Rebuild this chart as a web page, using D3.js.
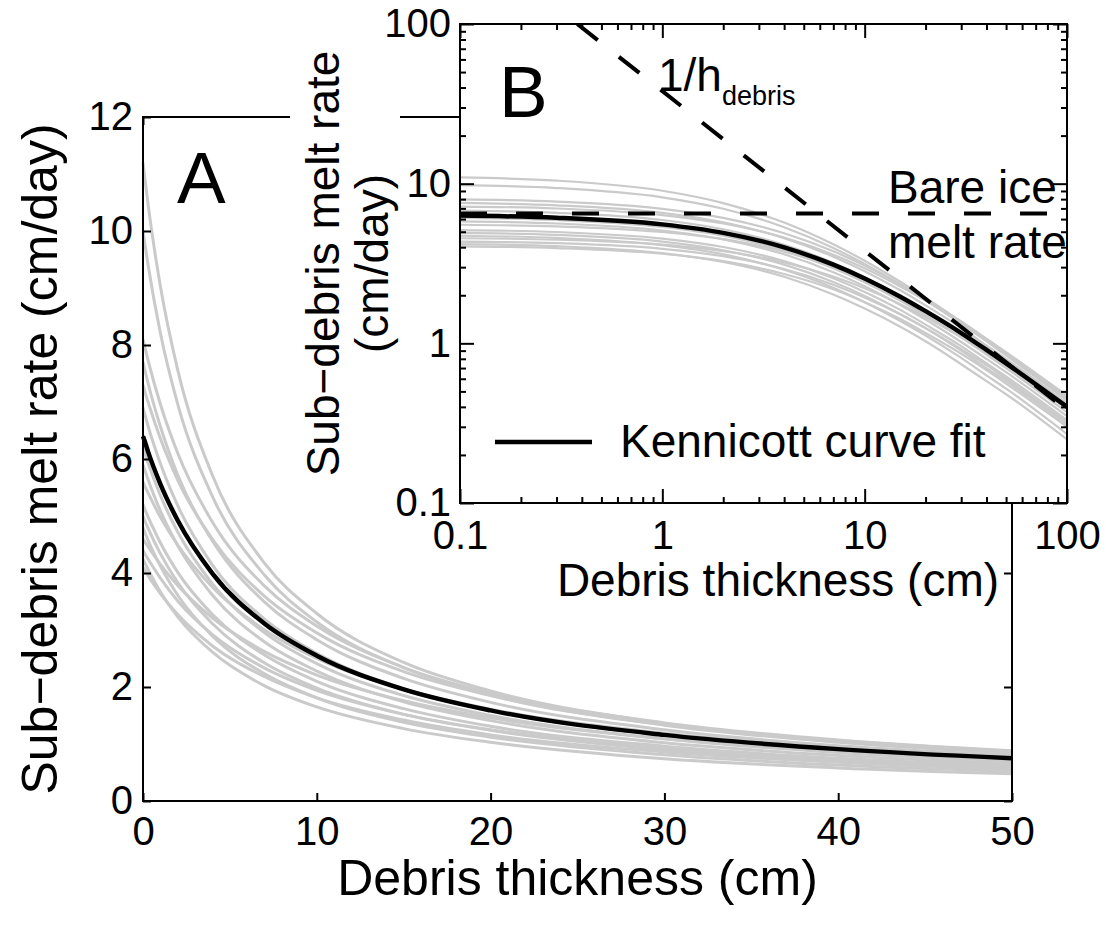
<!DOCTYPE html>
<html>
<head>
<meta charset="utf-8">
<script src="https://cdn.jsdelivr.net/npm/d3@7"></script>
<style>
body { margin: 0; background: #fff; }
svg { display: block; }
</style>
</head>
<body>
<div id="chart"></div>
<script>
// debris thickness (cm) at which each curve was read
var thickness = [0, 0.1, 0.3, 1, 2, 4, 7, 10, 15, 20, 30, 40, 50, 100];

// Kennicott curve fit (cm/day)
var kennicottFit = [6.40, 6.31, 6.12, 5.56, 4.92, 3.99, 3.11, 2.55, 1.96, 1.59, 1.16, 0.91, 0.75, 0.40];

// other sites' curves (grey)
var siteCurves = [
  [11.20, 10.94, 10.45, 9.03, 7.56, 5.71, 4.17, 3.29, 2.43, 1.93, 1.36, 1.05, 0.86, 0.45],
  [10.00, 9.79, 9.39, 8.21, 6.96, 5.34, 3.96, 3.14, 2.34, 1.86, 1.33, 1.03, 0.84, 0.44],
  [8.10, 7.97, 7.72, 6.96, 6.10, 4.89, 3.77, 3.07, 2.34, 1.89, 1.37, 1.07, 0.88, 0.47],
  [7.70, 7.57, 7.32, 6.57, 5.72, 4.56, 3.49, 2.83, 2.15, 1.73, 1.25, 0.97, 0.80, 0.42],
  [7.30, 7.19, 6.99, 6.36, 5.63, 4.59, 3.59, 2.95, 2.27, 1.85, 1.34, 1.06, 0.87, 0.46],
  [6.90, 6.79, 6.57, 5.92, 5.18, 4.14, 3.19, 2.59, 1.97, 1.59, 1.15, 0.90, 0.74, 0.39],
  [6.20, 6.10, 5.92, 5.36, 4.72, 3.81, 2.95, 2.41, 1.85, 1.50, 1.09, 0.85, 0.70, 0.37],
  [5.90, 5.81, 5.63, 5.09, 4.48, 3.61, 2.79, 2.28, 1.74, 1.41, 1.02, 0.80, 0.66, 0.35],
  [5.60, 5.53, 5.40, 4.98, 4.49, 3.75, 3.00, 2.50, 1.96, 1.61, 1.19, 0.94, 0.78, 0.42],
  [5.20, 5.12, 4.98, 4.53, 4.01, 3.27, 2.56, 2.10, 1.62, 1.31, 0.96, 0.75, 0.62, 0.33],
  [5.00, 4.92, 4.78, 4.34, 3.83, 3.11, 2.42, 1.98, 1.52, 1.24, 0.90, 0.70, 0.58, 0.31],
  [4.80, 4.72, 4.57, 4.12, 3.61, 2.89, 2.23, 1.81, 1.38, 1.12, 0.81, 0.63, 0.52, 0.27],
  [4.60, 4.55, 4.46, 4.15, 3.78, 3.21, 2.62, 2.21, 1.76, 1.46, 1.09, 0.87, 0.72, 0.39],
  [4.40, 4.34, 4.24, 3.91, 3.51, 2.92, 2.33, 1.94, 1.52, 1.25, 0.92, 0.73, 0.60, 0.32],
  [4.25, 4.18, 4.06, 3.67, 3.23, 2.61, 2.02, 1.65, 1.27, 1.03, 0.74, 0.58, 0.48, 0.25],
  [4.10, 4.05, 3.95, 3.64, 3.27, 2.72, 2.18, 1.81, 1.42, 1.16, 0.86, 0.68, 0.56, 0.30]
];

var bareIceRate = 6.5;
var inverseThickness = [0.38, 100];
var inverseRate = [100, 0.38];

var ticksAx = [0, 10, 20, 30, 40, 50];
var ticksAy = [0, 2, 4, 6, 8, 10, 12];
var ticksLog = [0.1, 1, 10, 100];

var width = 1106, height = 926;
var font = "Liberation Sans, Arial, sans-serif";
var grey = "#cacaca";

var A = {left: 143, right: 1012, top: 117, bottom: 801};
var B = {left: 460, right: 1067, top: 24, bottom: 503};

var svg = d3.select("#chart").append("svg")
    .attr("width", width)
    .attr("height", height)
    .attr("font-family", font);

var xA = d3.scaleLinear().domain([0, 50]).range([A.left, A.right]);
var yA = d3.scaleLinear().domain([0, 12]).range([A.bottom, A.top]);
var xB = d3.scaleLog().domain([0.1, 100]).range([B.left, B.right]);
var yB = d3.scaleLog().domain([0.1, 100]).range([B.bottom, B.top]);

var pts = vals => thickness.map((h, i) => [h, vals[i]]);

// ---------- panel A ----------
var lineA = d3.line().x(d => xA(d[0])).y(d => yA(d[1])).curve(d3.curveMonotoneX);

var gA = svg.append("g");
gA.selectAll("path.site")
  .data(siteCurves)
  .join("path")
    .attr("class", "site")
    .attr("d", d => lineA(pts(d).filter(p => p[0] <= 50)))
    .attr("fill", "none")
    .attr("stroke", grey)
    .attr("stroke-width", 3);

gA.append("path")
    .attr("d", lineA(pts(kennicottFit).filter(p => p[0] <= 50)))
    .attr("fill", "none")
    .attr("stroke", "#000")
    .attr("stroke-width", 4.5);

gA.append("rect")
    .attr("x", A.left).attr("y", A.top)
    .attr("width", A.right - A.left).attr("height", A.bottom - A.top)
    .attr("fill", "none").attr("stroke", "#000").attr("stroke-width", 2);

function styleAxis(g, size) {
  g.select(".domain").remove();
  g.selectAll(".tick line").attr("stroke", "#000").attr("stroke-width", 2);
  g.selectAll("text").attr("font-size", size).attr("font-family", font).attr("fill", "#000");
}

gA.append("g")
    .attr("transform", `translate(0,${A.bottom})`)
    .call(d3.axisBottom(xA).tickValues(ticksAx).tickSize(-8).tickPadding(16).tickFormat(d3.format("d")))
    .call(g => styleAxis(g, 40));
gA.append("g")
    .attr("transform", `translate(${A.left},0)`)
    .call(d3.axisLeft(yA).tickValues(ticksAy).tickSize(-8).tickPadding(10).tickFormat(d3.format("d")))
    .call(g => styleAxis(g, 40));
gA.append("g")
    .attr("transform", `translate(0,${A.top})`)
    .call(d3.axisTop(xA).tickValues(ticksAx).tickSize(-8).tickFormat(""))
    .call(g => styleAxis(g, 40));
gA.append("g")
    .attr("transform", `translate(${A.right},0)`)
    .call(d3.axisRight(yA).tickValues(ticksAy).tickSize(-8).tickFormat(""))
    .call(g => styleAxis(g, 40));

gA.append("text")
    .attr("x", (A.left + A.right) / 2).attr("y", 895)
    .attr("text-anchor", "middle").attr("font-size", 50)
    .text("Debris thickness (cm)");
gA.append("text")
    .attr("transform", `translate(57,${(A.top + A.bottom) / 2}) rotate(-90)`)
    .attr("text-anchor", "middle").attr("font-size", 50)
    .text("Sub\u2212debris melt rate (cm/day)");
gA.append("text")
    .attr("x", 177).attr("y", 203)
    .attr("font-size", 73)
    .text("A");

// ---------- panel B (inset) ----------
var gB = svg.append("g");

// white box behind the inset y label
gB.append("rect")
    .attr("x", 290).attr("y", 55).attr("width", 110).attr("height", 425)
    .attr("fill", "#fff");
gB.append("rect")
    .attr("x", B.left).attr("y", B.top)
    .attr("width", B.right - B.left).attr("height", B.bottom - B.top)
    .attr("fill", "#fff");

var lineB = d3.line().x(d => xB(d[0])).y(d => yB(d[1])).curve(d3.curveMonotoneX);

gB.append("clipPath").attr("id", "clipB")
  .append("rect")
    .attr("x", B.left).attr("y", B.top)
    .attr("width", B.right - B.left).attr("height", B.bottom - B.top);

var plotB = gB.append("g").attr("clip-path", "url(#clipB)");

plotB.selectAll("path.site")
  .data(siteCurves)
  .join("path")
    .attr("class", "site")
    .attr("d", d => lineB(pts(d).filter(p => p[0] > 0)))
    .attr("fill", "none")
    .attr("stroke", grey)
    .attr("stroke-width", 2.2);

plotB.append("path")
    .attr("d", lineB([[0.1, bareIceRate], [100, bareIceRate]]))
    .attr("fill", "none").attr("stroke", "#000")
    .attr("stroke-width", 4).attr("stroke-dasharray", "27,29");

plotB.append("path")
    .attr("d", lineB(pts(kennicottFit).filter(p => p[0] > 0)))
    .attr("fill", "none").attr("stroke", "#000")
    .attr("stroke-width", 4.5);

plotB.append("path")
    .attr("d", d3.line().x(d => xB(d[0])).y(d => yB(d[1]))(inverseThickness.map((h, i) => [h, inverseRate[i]])))
    .attr("fill", "none").attr("stroke", "#000")
    .attr("stroke-width", 4).attr("stroke-dasharray", "26,27");

// log minor ticks
var minor = [];
[0.1, 1, 10].forEach(d => { for (var k = 2; k <= 9; k++) minor.push(+(d * k).toPrecision(2)); });

function logAxes(g) {
  g.append("g")
      .attr("transform", `translate(0,${B.bottom})`)
      .call(d3.axisBottom(xB).tickValues(ticksLog).tickSize(-14).tickPadding(18).tickFormat(d => String(d)))
      .call(a => styleAxis(a, 40));
  g.append("g")
      .attr("transform", `translate(0,${B.bottom})`)
      .call(d3.axisBottom(xB).tickValues(minor).tickSize(-6).tickFormat(""))
      .call(a => styleAxis(a, 40));
  g.append("g")
      .attr("transform", `translate(0,${B.top})`)
      .call(d3.axisTop(xB).tickValues(ticksLog).tickSize(-14).tickFormat(""))
      .call(a => styleAxis(a, 40));
  g.append("g")
      .attr("transform", `translate(0,${B.top})`)
      .call(d3.axisTop(xB).tickValues(minor).tickSize(-6).tickFormat(""))
      .call(a => styleAxis(a, 40));
  g.append("g")
      .attr("transform", `translate(${B.left},0)`)
      .call(d3.axisLeft(yB).tickValues(ticksLog).tickSize(-14).tickPadding(9).tickFormat(d => String(d)))
      .call(a => styleAxis(a, 40));
  g.append("g")
      .attr("transform", `translate(${B.left},0)`)
      .call(d3.axisLeft(yB).tickValues(minor).tickSize(-6).tickFormat(""))
      .call(a => styleAxis(a, 40));
  g.append("g")
      .attr("transform", `translate(${B.right},0)`)
      .call(d3.axisRight(yB).tickValues(ticksLog).tickSize(-14).tickFormat(""))
      .call(a => styleAxis(a, 40));
  g.append("g")
      .attr("transform", `translate(${B.right},0)`)
      .call(d3.axisRight(yB).tickValues(minor).tickSize(-6).tickFormat(""))
      .call(a => styleAxis(a, 40));
}
logAxes(gB);

gB.append("rect")
    .attr("x", B.left).attr("y", B.top)
    .attr("width", B.right - B.left).attr("height", B.bottom - B.top)
    .attr("fill", "none").attr("stroke", "#000").attr("stroke-width", 2);

gB.append("text")
    .attr("x", 778).attr("y", 596)
    .attr("text-anchor", "middle").attr("font-size", 46)
    .text("Debris thickness (cm)");

var yLab = gB.append("text")
    .attr("transform", `translate(0,${(B.top + B.bottom) / 2}) rotate(-90)`)
    .attr("text-anchor", "middle").attr("font-size", 46);
yLab.append("tspan").attr("x", 0).attr("y", 339).text("Sub\u2212debris melt rate");
yLab.append("tspan").attr("x", 0).attr("y", 388).text("(cm/day)");

gB.append("text")
    .attr("x", 499).attr("y", 117)
    .attr("font-size", 73)
    .text("B");

var inv = gB.append("text").attr("x", 658).attr("y", 91).attr("font-size", 46);
inv.append("tspan").text("1/h");
inv.append("tspan").attr("font-size", 27).attr("dy", 14).text("debris");

gB.append("text").attr("x", 888).attr("y", 203).attr("font-size", 46).text("Bare ice");
gB.append("text").attr("x", 888).attr("y", 258).attr("font-size", 46).text("melt rate");

// legend
gB.append("line")
    .attr("x1", 495).attr("x2", 592).attr("y1", 442).attr("y2", 442)
    .attr("stroke", "#000").attr("stroke-width", 4.5);
gB.append("text")
    .attr("x", 620).attr("y", 457).attr("font-size", 46)
    .text("Kennicott curve fit");
</script>
</body>
</html>
